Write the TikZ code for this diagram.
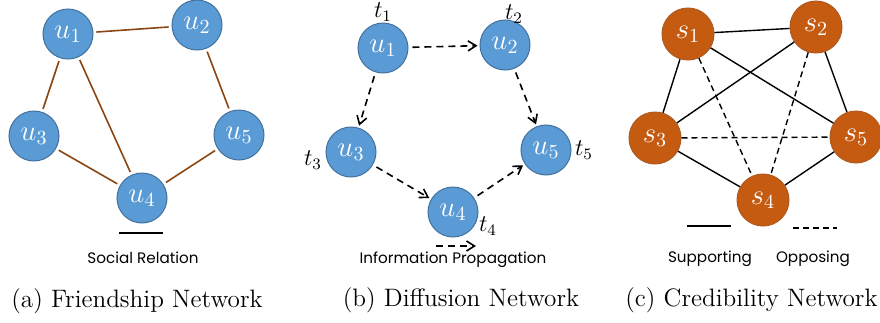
\documentclass[tikz,border=0pt]{standalone}
\usepackage{fontspec}
\newfontfamily\legendfont{Poppins}
\usetikzlibrary{arrows.meta}
\definecolor{userblue}{HTML}{5B9BD5}
\definecolor{userrim}{HTML}{41719C}
\definecolor{stanceorange}{HTML}{C55A11}
\definecolor{stancerim}{HTML}{AE5A21}
\definecolor{relbrown}{HTML}{8B4513}
\begin{document}
\begin{tikzpicture}[x=0.5pt,y=-0.5pt,
  user/.style={circle, fill=userblue, draw=userrim, line width=0.5pt, minimum size=25pt, inner sep=0pt, text=white, font=\Large},
  stance/.style={circle, fill=stanceorange, draw=stancerim, line width=0.5pt, minimum size=26pt, inner sep=0pt, text=white, font=\Large},
  relation/.style={draw=relbrown, line width=0.8pt, shorten <=1.5pt, shorten >=1.5pt},
  spread/.style={line width=0.8pt, dash pattern=on 3.5pt off 2.5pt, -{Straight Barb[length=4pt,width=5pt]}, shorten <=2pt, shorten >=1pt},
  support/.style={line width=0.7pt},
  oppose/.style={line width=0.7pt, dash pattern=on 3pt off 2pt},
  stamp/.style={font=\large},
  legend/.style={font=\legendfont\fontsize{7.6}{9}\selectfont},
  caption/.style={font=\fontsize{12.6}{14}\selectfont}]
\useasboundingbox (0,0) rectangle (880,322);

% (a) friendship
\node[user] (a1) at (68,34) {$u_1$};
\node[user] (a2) at (197,25) {$u_2$};
\node[user] (a3) at (34,136) {$u_3$};
\node[user] (a4) at (142,198) {$u_4$};
\node[user] (a5) at (239,135) {$u_5$};
\draw[relation] (a1) -- (a2);
\draw[relation] (a1) -- (a3);
\draw[relation] (a1) -- (a4);
\draw[relation] (a2) -- (a5);
\draw[relation] (a3) -- (a4);
\draw[relation] (a4) -- (a5);
\coordinate (ra) at (119,233);
\coordinate (rb) at (163,233);
\draw[line width=0.8pt] (ra) -- (rb);
\node[legend] (rlabel) at (143,258) {Social Relation};
\node[caption] (capa) at (137,301) {(a) Friendship Network};

% (b) diffusion
\node[user] (b1) at (383,48) {$u_1$};
\node[user] (b2) at (505,45) {$u_2$};
\node[user] (b3) at (351,152) {$u_3$};
\node[user] (b4) at (453,212) {$u_4$};
\node[user] (b5) at (546,150) {$u_5$};
\node[stamp] (t1) at (383,12) {$t_1$};
\node[stamp] (t2) at (514,14) {$t_2$};
\node[stamp] (t3) at (313,160) {$t_3$};
\node[stamp] (t4) at (488,226) {$t_4$};
\node[stamp] (t5) at (584,150) {$t_5$};
\draw[spread] (b1) -- (b2);
\draw[spread] (b1) -- (b3);
\draw[spread] (b2) -- (b5);
\draw[spread] (b3) -- (b4);
\draw[spread] (b4) -- (b5);
\coordinate (pa) at (436,246);
\coordinate (pb) at (476,246);
\draw[spread, shorten <=0pt, shorten >=0pt] (pa) -- (pb);
\node[legend] (plabel) at (453,260) {Information Propagation};
\node[caption] (capb) at (461,300) {(b) Diffusion Network};

% (c) credibility
\node[stance] (c1) at (688,34) {$s_1$};
\node[stance] (c2) at (816,27) {$s_2$};
\node[stance] (c3) at (655,138) {$s_3$};
\node[stance] (c4) at (763,200) {$s_4$};
\node[stance] (c5) at (856,137) {$s_5$};
\draw[support] (c1) -- (c2);
\draw[support] (c1) -- (c3);
\draw[support] (c1) -- (c5);
\draw[support] (c2) -- (c3);
\draw[support] (c2) -- (c5);
\draw[support] (c3) -- (c4);
\draw[support] (c4) -- (c5);
\draw[oppose] (c1) -- (c4);
\draw[oppose] (c2) -- (c4);
\draw[oppose] (c3) -- (c5);
\coordinate (sa) at (687,226);
\coordinate (sb) at (731,226);
\coordinate (oa) at (793,228);
\coordinate (ob) at (837,228);
\draw[support] (sa) -- (sb);
\draw[oppose] (oa) -- (ob);
\node[legend] (slabel) at (710,259) {Supporting};
\node[legend] (olabel) at (813,259) {Opposing};
\node[caption, anchor=east, inner sep=0pt] (capc) at (878,300) {(c) Credibility Network};
\end{tikzpicture}
\end{document}
